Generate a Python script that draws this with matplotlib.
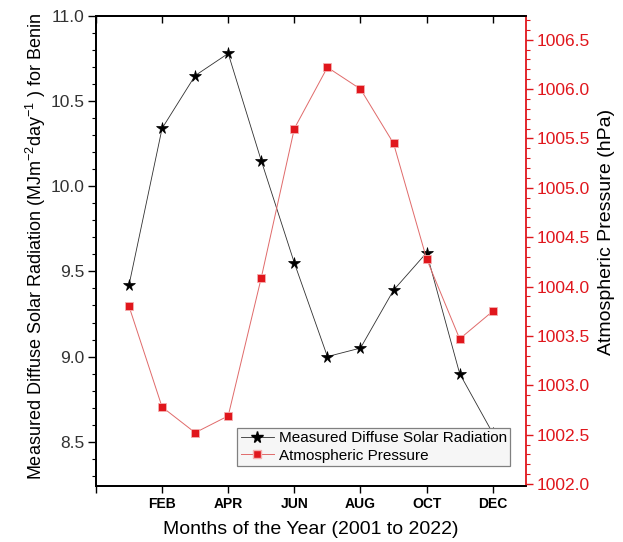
import matplotlib
matplotlib.use("Agg")
import matplotlib.pyplot as plt
from matplotlib.ticker import MultipleLocator, FixedLocator, FormatStrFormatter
from matplotlib.lines import Line2D

plt.rcParams['font.family'] = ['Liberation Sans', 'DejaVu Sans']
plt.rcParams['mathtext.fontset'] = 'custom'
plt.rcParams['mathtext.rm'] = 'Liberation Sans'
plt.rcParams['mathtext.it'] = 'Liberation Sans:italic'

# Monthly means, 2001-2022
months = [1, 2, 3, 4, 5, 6, 7, 8, 9, 10, 11, 12]
diffuse_radiation = [9.42, 10.34, 10.65, 10.78, 10.15, 9.55, 9.00, 9.05, 9.39, 9.61, 8.90, 8.55]
pressure_hpa = [1003.80, 1002.78, 1002.52, 1002.69, 1004.09, 1005.60,
                1006.22, 1006.00, 1005.45, 1004.28, 1003.47, 1003.75]

tick_positions = [0, 2, 4, 6, 8, 10, 12]
tick_labels = ['', 'FEB', 'APR', 'JUN', 'AUG', 'OCT', 'DEC']

RED = '#e0161c'

fig = plt.figure(figsize=(6.23, 5.42), dpi=100)
ax = fig.add_axes([0.154, 0.1033, 0.690, 0.8672])
ax2 = ax.twinx()

ax.plot(months, diffuse_radiation, color='#303030', lw=0.6, marker='*',
        ms=8.5, mfc='black', mec='black', mew=0.5, zorder=3)
ax2.plot(months, pressure_hpa, color='#e06a6a', lw=0.7, marker='s',
         ms=6, mfc=RED, mec='#f4b0b0', mew=0.6, zorder=3)

# x axis
ax.set_xlim(0, 13)
ax.xaxis.set_major_locator(FixedLocator(tick_positions))
ax.set_xticklabels(tick_labels, fontweight='bold', fontsize=10)
ax.tick_params(axis='x', direction='out', length=5, width=1.0, pad=3)
top = ax.secondary_xaxis('top')
top.xaxis.set_major_locator(FixedLocator(tick_positions))
top.tick_params(axis='x', direction='in', length=5, width=1.0, labeltop=False)
top.spines['top'].set_linewidth(1.3)
ax.set_xlabel('Months of the Year (2001 to 2022)', fontsize=14)
ax.xaxis.set_label_coords(0.5, -0.075)

# left axis
ax.set_ylim(8.24, 11.0)
ax.yaxis.set_major_locator(MultipleLocator(0.5))
ax.yaxis.set_minor_locator(MultipleLocator(0.1))
ax.yaxis.set_major_formatter(FormatStrFormatter('%.1f'))
ax.tick_params(axis='y', which='major', direction='out', length=6, width=1.0,
               labelsize=12.5, labelcolor='#333333', pad=2)
ax.tick_params(axis='y', which='minor', direction='out', length=3, width=0.8)
ax.set_ylabel(r'Measured Diffuse Solar Radiation (MJm$^{-2}$day$^{-1}$ ) for Benin',
              fontsize=13)
ax.yaxis.set_label_coords(-0.112, 0.51)

# right axis
ax2.set_ylim(1001.98, 1006.74)
ax2.yaxis.set_major_locator(MultipleLocator(0.5))
ax2.yaxis.set_minor_locator(MultipleLocator(0.1))
ax2.yaxis.set_major_formatter(FormatStrFormatter('%.1f'))
ax2.tick_params(axis='y', which='major', direction='out', length=5, width=1.0,
                color=RED, labelcolor=RED, labelsize=12.5, pad=3)
ax2.tick_params(axis='y', which='minor', direction='out', length=3, width=0.8,
                color=RED)
ax2.set_ylabel('Atmospheric Pressure (hPa)', fontsize=14)
ax2.yaxis.set_label_coords(1.167, 0.54)

for sp in ['left', 'bottom', 'top']:
    ax.spines[sp].set_linewidth(1.3)
    ax2.spines[sp].set_linewidth(1.3)
ax2.spines['right'].set_color(RED)
ax2.spines['right'].set_linewidth(1.3)
ax.spines['right'].set_visible(False)

handles = [
    Line2D([], [], color='#303030', lw=0.6, marker='*', ms=8.5, mfc='black', mec='black'),
    Line2D([], [], color='#e06a6a', lw=0.7, marker='s', ms=6, mfc=RED, mec='#f4b0b0'),
]
leg = ax2.legend(handles, ['Measured Diffuse Solar Radiation', 'Atmospheric Pressure'],
                 loc='lower right', bbox_to_anchor=(0.963, 0.043), fontsize=11,
                 frameon=True, fancybox=False, framealpha=1, facecolor='#f6f6f6',
                 edgecolor='#808080', borderpad=0.2, handlelength=2.2,
                 handletextpad=0.3, labelspacing=0.25, borderaxespad=0)
leg.get_frame().set_linewidth(0.9)
leg.set_zorder(10)

fig.savefig('out.png', dpi=100)
